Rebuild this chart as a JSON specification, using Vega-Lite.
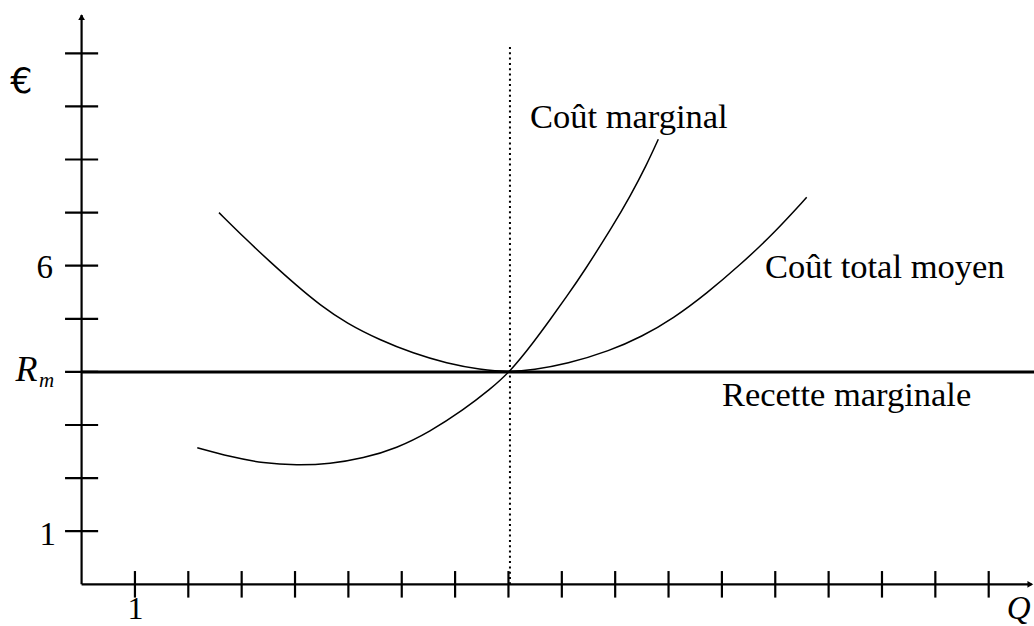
{
  "$schema": "https://vega.github.io/schema/vega-lite/v6.json",
  "width": 1034,
  "height": 626,
  "padding": 0,
  "autosize": {"type": "none"},
  "background": "white",
  "config": {"view": {"stroke": null}, "text": {"font": "Liberation Serif", "fill": "black"}},
  "encoding": {
    "x": {"type": "quantitative", "scale": {"domain": [-1.529, 17.849], "nice": false, "zero": false}, "axis": null},
    "y": {"type": "quantitative", "scale": {"domain": [-0.785, 11.004], "nice": false, "zero": false}, "axis": null}
  },
  "layer": [
    {
      "data": {"values": [{"q": 8.028, "a": 0, "b": 10.12}]},
      "mark": {"type": "rule", "strokeDash": [2, 3.3], "strokeWidth": 2, "color": "black"},
      "encoding": {"x": {"field": "q", "type": "quantitative"}, "y": {"field": "a", "type": "quantitative"}, "y2": {"field": "b"}}
    },
    {
      "data": {"values": [{"x1": 0, "x2": 17.8, "y1": 0, "y2": 0}, {"x1": 0, "x2": 0, "y1": 0, "y2": 10.72}]},
      "mark": {"type": "rule", "strokeWidth": 2.2, "color": "black"},
      "encoding": {"x": {"field": "x1", "type": "quantitative"}, "x2": {"field": "x2"}, "y": {"field": "y1", "type": "quantitative"}, "y2": {"field": "y2"}}
    },
    {
      "data": {"values": [{"x1": 0, "x2": 17.849, "y": 4}]},
      "mark": {"type": "rule", "strokeWidth": 3, "color": "black"},
      "encoding": {"x": {"field": "x1", "type": "quantitative"}, "x2": {"field": "x2"}, "y": {"field": "y", "type": "quantitative"}}
    },
    {
      "data": {"values": [{"t": 1}, {"t": 2}, {"t": 3}, {"t": 4}, {"t": 5}, {"t": 6}, {"t": 7}, {"t": 8}, {"t": 9}, {"t": 10}, {"t": 11}, {"t": 12}, {"t": 13}, {"t": 14}, {"t": 15}, {"t": 16}, {"t": 17}]},
      "mark": {"type": "rule", "strokeWidth": 2.2, "color": "black"},
      "encoding": {"x": {"field": "t", "type": "quantitative"}, "y": {"datum": -0.25}, "y2": {"datum": 0.25}}
    },
    {
      "data": {"values": [{"t": 1}, {"t": 2}, {"t": 3}, {"t": 4}, {"t": 5}, {"t": 6}, {"t": 7}, {"t": 8}, {"t": 9}, {"t": 10}]},
      "mark": {"type": "rule", "strokeWidth": 2.2, "color": "black"},
      "encoding": {"y": {"field": "t", "type": "quantitative"}, "x": {"datum": -0.31}, "x2": {"datum": 0.31}}
    },
    {
      "data": {"values": [{"x": 0, "y": 10.68, "s": "triangle-up"}, {"x": 17.78, "y": 0, "s": "triangle-right"}]},
      "mark": {"type": "point", "filled": true, "color": "black", "size": 45, "opacity": 1},
      "encoding": {"x": {"field": "x", "type": "quantitative"}, "y": {"field": "y", "type": "quantitative"}, "shape": {"field": "s", "type": "nominal", "scale": null}}
    },
    {
      "data": {"values": [
        {"s": "ctm", "x": 2.575, "y": 7.0},
        {"s": "ctm", "x": 3.094, "y": 6.484},
        {"s": "ctm", "x": 3.531, "y": 6.075},
        {"s": "ctm", "x": 4.031, "y": 5.625},
        {"s": "ctm", "x": 4.468, "y": 5.26},
        {"s": "ctm", "x": 4.968, "y": 4.915},
        {"s": "ctm", "x": 5.591, "y": 4.601},
        {"s": "ctm", "x": 6.216, "y": 4.35},
        {"s": "ctm", "x": 6.842, "y": 4.162},
        {"s": "ctm", "x": 7.466, "y": 4.045},
        {"s": "ctm", "x": 8.028, "y": 4.0},
        {"s": "ctm", "x": 8.465, "y": 4.04},
        {"s": "ctm", "x": 9.091, "y": 4.149},
        {"s": "ctm", "x": 9.903, "y": 4.399},
        {"s": "ctm", "x": 10.497, "y": 4.663},
        {"s": "ctm", "x": 11.089, "y": 5.007},
        {"s": "ctm", "x": 11.715, "y": 5.478},
        {"s": "ctm", "x": 12.339, "y": 6.013},
        {"s": "ctm", "x": 12.963, "y": 6.6},
        {"s": "ctm", "x": 13.589, "y": 7.288},
        {"s": "cm", "x": 2.168, "y": 2.572},
        {"s": "cm", "x": 2.781, "y": 2.403},
        {"s": "cm", "x": 3.405, "y": 2.279},
        {"s": "cm", "x": 4.031, "y": 2.241},
        {"s": "cm", "x": 4.655, "y": 2.266},
        {"s": "cm", "x": 5.279, "y": 2.373},
        {"s": "cm", "x": 5.905, "y": 2.561},
        {"s": "cm", "x": 6.529, "y": 2.874},
        {"s": "cm", "x": 7.153, "y": 3.282},
        {"s": "cm", "x": 7.654, "y": 3.67},
        {"s": "cm", "x": 8.028, "y": 4.0},
        {"s": "cm", "x": 8.465, "y": 4.55},
        {"s": "cm", "x": 8.778, "y": 4.98},
        {"s": "cm", "x": 9.091, "y": 5.42},
        {"s": "cm", "x": 9.402, "y": 5.87},
        {"s": "cm", "x": 9.964, "y": 6.76},
        {"s": "cm", "x": 10.277, "y": 7.3},
        {"s": "cm", "x": 10.59, "y": 7.899},
        {"s": "cm", "x": 10.808, "y": 8.381}
      ]},
      "mark": {"type": "line", "interpolate": "basis", "strokeWidth": 1.5, "color": "black"},
      "encoding": {"x": {"field": "x", "type": "quantitative"}, "y": {"field": "y", "type": "quantitative"}, "detail": {"field": "s", "type": "nominal"}}
    },
    {
      "data": {"values": [
        {"label": "Coût marginal", "x": 8.403, "y": 8.59},
        {"label": "Coût total moyen", "x": 12.807, "y": 5.77},
        {"label": "Recette marginale", "x": 12.0, "y": 3.35}
      ]},
      "mark": {"type": "text", "align": "left", "baseline": "alphabetic", "fontSize": 34.5},
      "encoding": {"x": {"field": "x", "type": "quantitative"}, "y": {"field": "y", "type": "quantitative"}, "text": {"field": "label"}}
    },
    {
      "data": {"values": [
        {"label": "6", "x": -0.536, "y": 5.774},
        {"label": "1", "x": -0.48, "y": 0.739}
      ]},
      "mark": {"type": "text", "align": "right", "baseline": "alphabetic", "fontSize": 33},
      "encoding": {"x": {"field": "x", "type": "quantitative"}, "y": {"field": "y", "type": "quantitative"}, "text": {"field": "label"}}
    },
    {
      "data": {"values": [
        {"label": "1", "x": 1.01, "y": -0.655}
      ]},
      "mark": {"type": "text", "align": "center", "baseline": "alphabetic", "fontSize": 32},
      "encoding": {"x": {"field": "x", "type": "quantitative"}, "y": {"field": "y", "type": "quantitative"}, "text": {"field": "label"}}
    },
    {
      "data": {"values": [
        {"label": "€", "x": -1.126, "y": 9.252}
      ]},
      "mark": {"type": "text", "align": "center", "baseline": "alphabetic", "fontSize": 35, "font": "DejaVu Sans"},
      "encoding": {"x": {"field": "x", "type": "quantitative"}, "y": {"field": "y", "type": "quantitative"}, "text": {"field": "label"}}
    },
    {
      "data": {"values": [
        {"label": "R", "x": -1.24, "y": 3.829}
      ]},
      "mark": {"type": "text", "align": "left", "baseline": "alphabetic", "fontSize": 36, "fontStyle": "italic"},
      "encoding": {"x": {"field": "x", "type": "quantitative"}, "y": {"field": "y", "type": "quantitative"}, "text": {"field": "label"}}
    },
    {
      "data": {"values": [
        {"label": "Q", "x": 17.337, "y": -0.655}
      ]},
      "mark": {"type": "text", "align": "left", "baseline": "alphabetic", "fontSize": 33, "fontStyle": "italic"},
      "encoding": {"x": {"field": "x", "type": "quantitative"}, "y": {"field": "y", "type": "quantitative"}, "text": {"field": "label"}}
    },
    {
      "data": {"values": [{"label": "m", "x": -0.8, "y": 3.72}]},
      "mark": {"type": "text", "align": "left", "baseline": "alphabetic", "fontSize": 21, "fontStyle": "italic"},
      "encoding": {"x": {"field": "x", "type": "quantitative"}, "y": {"field": "y", "type": "quantitative"}, "text": {"field": "label"}}
    }
  ]
}
